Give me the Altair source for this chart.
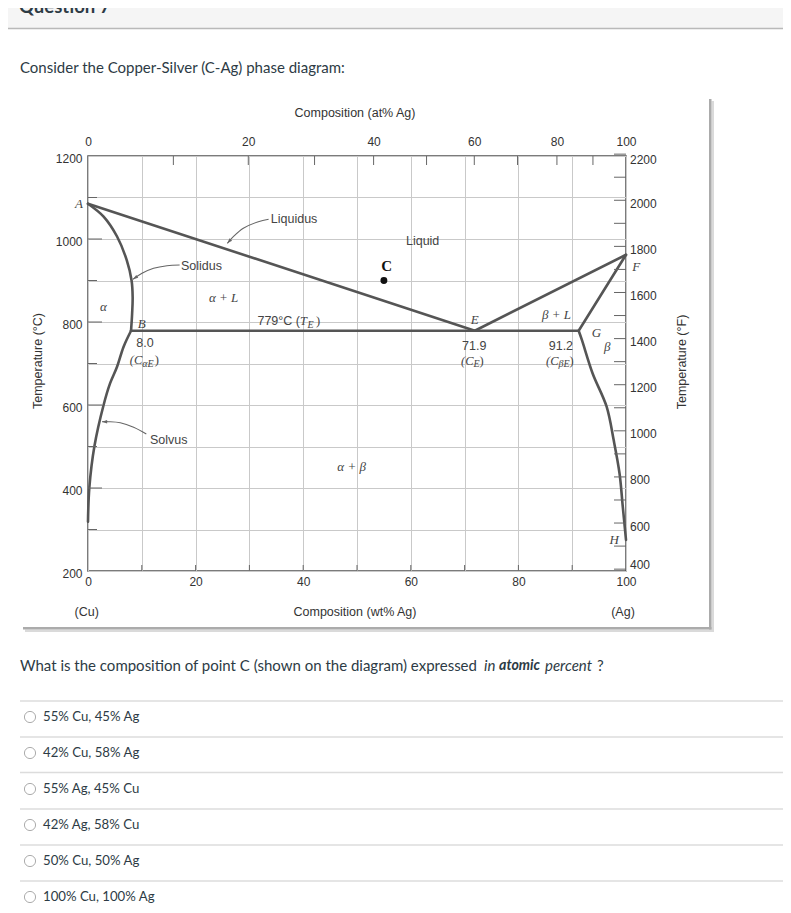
import altair as alt
import pandas as pd

# ---------------- values ----------------
# phase boundaries: composition (wt% Ag) and temperature (deg C)
liquidus_alpha_wt = [0.0, 71.9]
liquidus_alpha_T = [1085, 779]
liquidus_beta_wt = [71.9, 100.0]
liquidus_beta_T = [779, 962]
solidus_alpha_wt = [0.0, 2.9, 5.4, 7.2, 8.1, 8.3, 8.2, 8.0]
solidus_alpha_T = [1085, 1054, 1006, 949, 900, 860, 820, 779]
solvus_alpha_wt = [8.0, 6.6, 5.4, 4.1, 2.9, 1.2, 0.25, 0.0]
solvus_alpha_T = [779, 740, 692, 652, 600, 501, 401, 319]
solidus_beta_wt = [100.0, 91.2]
solidus_beta_T = [962, 779]
solvus_beta_wt = [91.2, 91.8, 93.8, 96.4, 97.7, 98.8, 99.4, 100.0]
solvus_beta_T = [779, 757, 676, 596, 516, 435, 355, 275]
eutectic_wt = [8.0, 91.2]
eutectic_T = [779, 779]

point_C_wt = [55.0]
point_C_T = [900]

# leader arrows (label -> line)
liq_arrow_wt = [33.57, 31.66, 28.87, 27.01, 25.90]
liq_arrow_T = [1047.5, 1041.7, 1025.8, 1005.5, 989.6]
sol_arrow_wt = [17.03, 14.68, 12.19, 10.04, 8.36]
sol_arrow_T = [937.3, 935.7, 929.4, 917.3, 902.9]
solv_arrow_wt = [10.84, 8.48, 6.0, 3.83, 2.6]
solv_arrow_T = [530.1, 546.3, 557.3, 559.8, 559.8]
arrow_head_angle = [222, 236, 270]

# axis ticks / labels
wt_ticks = list(range(0, 101, 10))
T_ticks = list(range(200, 1201, 100))
T_major = [400, 600, 800, 1000]
T_minor = [300, 500, 700, 900, 1100]
at_ticks = list(range(10, 100, 10))
at_labels = [0, 20, 40, 60, 80, 100]
F_ticks = list(range(400, 2201, 100))
F_labels = list(range(400, 2201, 200))
M_AG, M_CU = 107.87, 63.55

# in-plot labels
sans_text = ["Liquidus", "Liquid", "Solidus", "Solvus", "8.0", "71.9", "91.2"]
sans_wt = [38.3, 62.2, 21.1, 15.0, 10.6, 71.8, 87.9]
sans_T = [1047, 996, 935, 516, 749, 742, 743]
serif_text = ["A", "B", "E", "F", "G", "β", "H", "α", "α + L", "β + L", "α + β"]
serif_wt = [-1.67, 9.98, 71.9, 101.9, 94.5, 96.5, 97.8, 2.85, 25.2, 87.1, 49.0]
serif_T = [1084, 794, 805, 933, 773, 739, 275, 837, 859, 817, 451]
cpre_text = ["(C", "(C", "(C"]
cpre_wt = [10.09, 71.65, 87.45]
cpre_T = [708, 707, 707]
sub_text = ["αE", "E", "βE", "E"]
sub_wt = [10.09, 71.65, 87.45, 40.8]
sub_T = [698, 699, 699, 793]
close_text = [")", ")", ")", ")"]
close_wt = [12.4, 72.77, 89.5, 42.4]
close_T = [708, 707, 707, 802.4]
te_text = ["779°C ("]
te_wt = [39.4]
te_T = [802.4]
t_text = ["T"]

# page text
question_title = "Question 7"
intro_text = "Consider the Copper-Silver (C-Ag) phase diagram:"
q_parts = ["What is the composition of point C (shown on the diagram) expressed", "in", "atomic", "percent", "?"]
options = ["55% Cu, 45% Ag", "42% Cu, 58% Ag", "55% Ag, 45% Cu", "42% Ag, 58% Cu",
           "50% Cu, 50% Ag", "100% Cu, 100% Ag"]

# ---------------- chart ----------------
W, H = 538, 415
X_SCALE = alt.Scale(domain=[0, 100], nice=False, zero=False)
Y_SCALE = alt.Scale(domain=[200, 1200], nice=False, zero=False)
INK = "#2d3b45"


def at_to_wt(a):
    return 100 * a * M_AG / (a * M_AG + (100 - a) * M_CU)


curve_rows = []
for name, ws, ts in [("liq_a", liquidus_alpha_wt, liquidus_alpha_T),
                     ("liq_b", liquidus_beta_wt, liquidus_beta_T),
                     ("sol_a", solidus_alpha_wt, solidus_alpha_T),
                     ("solv_a", solvus_alpha_wt, solvus_alpha_T),
                     ("sol_b", solidus_beta_wt, solidus_beta_T),
                     ("solv_b", solvus_beta_wt, solvus_beta_T),
                     ("eut", eutectic_wt, eutectic_T)]:
    for i, (w, t) in enumerate(zip(ws, ts)):
        curve_rows.append({"curve": name, "i": i, "wt": w, "T": t})
curves_df = pd.DataFrame(curve_rows)

arrow_rows = []
for name, ws, ts in [("liq", liq_arrow_wt, liq_arrow_T),
                     ("sol", sol_arrow_wt, sol_arrow_T),
                     ("solv", solv_arrow_wt, solv_arrow_T)]:
    for i, (w, t) in enumerate(zip(ws, ts)):
        arrow_rows.append({"curve": name, "i": i, "wt": w, "T": t})
arrows_df = pd.DataFrame(arrow_rows)
heads_df = pd.DataFrame({
    "wt": [liq_arrow_wt[-1], sol_arrow_wt[-1], solv_arrow_wt[-1]],
    "T": [liq_arrow_T[-1], sol_arrow_T[-1], solv_arrow_T[-1]],
    "ang": arrow_head_angle,
})

GRID = "#c9c9c9"
bottom_axis = alt.Axis(orient="bottom", values=wt_ticks, format="d",
                       labelExpr="datum.value % 20 == 0 ? datum.label : ''",
                       grid=True, gridColor=GRID, gridWidth=1, ticks=False, domain=False,
                       labelFont="Liberation Sans", labelFontSize=12, labelColor="#333",
                       labelPadding=5, labelFlush=False, labelOverlap=False, title=None)
left_axis = alt.Axis(orient="left", values=T_ticks, format="d",
                     labelExpr="datum.value % 200 == 0 ? datum.label : ''",
                     grid=True, gridColor=GRID, gridWidth=1, ticks=False, domain=False,
                     labelFont="Liberation Sans", labelFontSize=12, labelColor="#333",
                     labelPadding=6, labelOffset=2, labelFlush=False, labelOverlap=False, title=None)
top_axis = alt.Axis(orient="top", values=[at_to_wt(a) for a in at_labels],
                    labelExpr="format(100*(datum.value/107.87)/(datum.value/107.87+(100-datum.value)/63.55), '.0f')",
                    grid=False, ticks=False, domain=False,
                    labelFont="Liberation Sans", labelFontSize=12, labelColor="#333",
                    labelPadding=8, labelFlush=False, labelOverlap=False, title=None)


def X(axis=None):
    return alt.X("wt:Q", scale=X_SCALE, axis=axis)


def Y(axis=None):
    return alt.Y("T:Q", scale=Y_SCALE, axis=axis)


def one(txt=""):
    return alt.Data(values=[{"t": txt}])


def ptext(txt, x, y, size=14, weight="normal", style="normal", align="left",
          font="Lato", color=INK, baseline="middle", angle=0):
    return alt.Chart(one(txt)).mark_text(
        align=align, baseline=baseline, font=font, fontSize=size, fontWeight=weight,
        fontStyle=style, color=color, angle=angle
    ).encode(x=alt.value(x), y=alt.value(y), text="t:N")


def prect(x, x2, y, y2, color):
    return alt.Chart(one()).mark_rect(color=color).encode(
        x=alt.value(x), x2=alt.value(x2), y=alt.value(y), y2=alt.value(y2))


def prule(x, x2, y, color, width):
    return alt.Chart(one()).mark_rule(color=color, strokeWidth=width).encode(
        x=alt.value(x), x2=alt.value(x2), y=alt.value(y))


def dtext(texts, ws, ts, size, font, style="normal", weight="normal", align="center",
          color="#444", dy=0):
    df = pd.DataFrame({"t": texts, "wt": ws, "T": ts})
    return alt.Chart(df).mark_text(
        align=align, baseline="middle", font=font, fontSize=size, fontStyle=style,
        fontWeight=weight, color=color, dy=dy
    ).encode(x=X(), y=Y(), text="t:N")


layers = []

# page header
layers.append(prect(-80, 695, -148, -128, "#f5f5f5"))
layers.append(prule(-80, 695, -127.5, "#b9b9b9", 1.5))
layers.append(ptext(question_title, -69, -143.3, size=18.5, weight="bold", baseline="alphabetic"))
layers.append(ptext(intro_text, -68, -87.7, size=15))

# figure frame shadow
layers.append(prect(623.5, 626, -55, 476, "#dadada"))
layers.append(prect(-63, 626, 473.5, 476, "#dadada"))
layers.append(prect(621, 623.5, -57, 473.5, "#ababab"))
layers.append(prect(-65, 623.5, 471, 473.5, "#ababab"))

# phase boundaries (carries bottom / left axes and grid)
layers.append(alt.Chart(curves_df).mark_line(
    color="#555555", strokeWidth=2.6, interpolate="catmull-rom", strokeCap="round", strokeJoin="round"
).encode(x=X(bottom_axis), y=Y(left_axis), detail="curve:N", order="i:Q"))

# inward ticks
layers.append(alt.Chart(pd.DataFrame({"wt": wt_ticks[1:-1]})).mark_rule(color="#666", strokeWidth=1).encode(
    x=X(), y=alt.value(H), y2=alt.value(H - 6)))
layers.append(alt.Chart(pd.DataFrame({"wt": [at_to_wt(a) for a in at_ticks]})).mark_rule(color="#666", strokeWidth=1).encode(
    x=X(), y=alt.value(0), y2=alt.value(9)))
layers.append(alt.Chart(pd.DataFrame({"T": T_major})).mark_rule(color="#666", strokeWidth=1).encode(
    y=Y(), x=alt.value(0), x2=alt.value(14)))
layers.append(alt.Chart(pd.DataFrame({"T": T_minor})).mark_rule(color="#666", strokeWidth=1).encode(
    y=Y(), x=alt.value(0), x2=alt.value(9)))
layers.append(alt.Chart(pd.DataFrame({"F": F_ticks})).transform_calculate(
    T="(datum.F - 32) * 5 / 9").mark_rule(color="#666", strokeWidth=1).encode(
    y=Y(), x=alt.value(W), x2=alt.value(W - 12)))
layers.append(alt.Chart(pd.DataFrame({"F": F_labels})).transform_calculate(
    T="(datum.F - 32) * 5 / 9 + (datum.F == 400 ? 18 : 0) - (datum.F == 2200 ? 6 : 0)",
    t="format(datum.F, 'd')").mark_text(
    align="left", baseline="middle", font="Liberation Sans", fontSize=12, color="#333", dy=3.5
).encode(y=Y(), x=alt.value(W + 4), text="t:N"))

# arrows
layers.append(alt.Chart(arrows_df).mark_line(color="#666", strokeWidth=1.1, interpolate="catmull-rom").encode(
    x=X(), y=Y(), detail="curve:N", order="i:Q"))
layers.append(alt.Chart(heads_df).mark_point(
    shape="M0,0L0.75,2.2L-0.75,2.2Z", filled=True, color="#666", opacity=1, size=22
).encode(x=X(), y=Y(), angle=alt.Angle("ang:Q", scale=None)))

# point C (carries top at% axis)
layers.append(alt.Chart(pd.DataFrame({"wt": point_C_wt, "T": point_C_T})).mark_circle(
    size=48, color="#111", opacity=1).encode(x=X(top_axis), y=Y()))

# in-plot labels
layers.append(dtext(sans_text, sans_wt, sans_T, 12.5, "Liberation Sans"))
layers.append(dtext(serif_text, serif_wt, serif_T, 13, "Liberation Serif", style="italic"))
layers.append(dtext(["C"], [55.5], [935], 15, "Liberation Serif", weight="bold", color="#111"))
layers.append(dtext(cpre_text, cpre_wt, cpre_T, 12.5, "Liberation Serif", style="italic", align="right"))
layers.append(dtext(sub_text, sub_wt, sub_T, 10, "Liberation Serif", style="italic", align="left"))
layers.append(dtext(close_text, close_wt, close_T, 12.5, "Liberation Serif", align="left"))
layers.append(dtext(te_text, te_wt, te_T, 12.5, "Liberation Sans", align="right"))
layers.append(dtext(t_text, te_wt, te_T, 12.5, "Liberation Serif", style="italic", align="left"))

# axis titles
layers.append(ptext("Composition (at% Ag)", 267, -43, size=12.5, font="Liberation Sans", color="#333", align="center"))
layers.append(ptext("Composition (wt% Ag)", 267, 455.7, size=12.5, font="Liberation Sans", color="#333", align="center"))
layers.append(ptext("(Cu)", -1.3, 455.7, size=12.5, font="Liberation Sans", color="#333", align="center"))
layers.append(ptext("(Ag)", 535, 455.7, size=12.5, font="Liberation Sans", color="#333", align="center"))
layers.append(ptext("Temperature (°C)", -50, 205, size=12.5, font="Liberation Sans", color="#333", align="center", angle=270))
layers.append(ptext("Temperature (°F)", 594, 206, size=12.5, font="Liberation Sans", color="#333", align="center", angle=270))

# question
q_x = [-68, 396, 411, 457, 509]
q_size = [15, 15, 14.2, 15, 15]
q_style = [("normal", "normal"), ("italic", "normal"), ("italic", "bold"), ("italic", "normal"), ("normal", "normal")]
for txt, x, sz, (st, wg) in zip(q_parts, q_x, q_size, q_style):
    layers.append(ptext(txt, x, 510, size=sz, style=st, weight=wg))

# options
row_y = [560.5, 596.5, 632.5, 668.5, 704.5, 740.5]
line_y = [545, 581, 616.5, 653, 689, 725]
for txt, ry, ly in zip(options, row_y, line_y):
    layers.append(prule(-68, 695, ly, "#dcdcdc", 1.5))
    layers.append(alt.Chart(one()).mark_point(shape="circle", size=125, filled=False, color="#8a8a8a",
                                              strokeWidth=1).encode(x=alt.value(-58), y=alt.value(ry + 0.5)))
    layers.append(ptext(txt, -45, ry, size=13.2))

chart = alt.layer(*layers).properties(
    width=W, height=H,
    padding={"left": 80, "top": 148, "right": 157, "bottom": 334},
    autosize=alt.AutoSizeParams(type="none"),
    background="white",
).resolve_axis(x="independent", y="independent").configure_view(stroke="#505050", strokeWidth=1.5)

chart.save("out.html", embed_options={"renderer": "svg", "actions": False})
